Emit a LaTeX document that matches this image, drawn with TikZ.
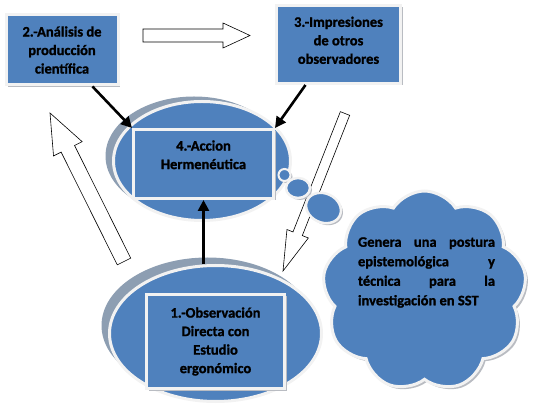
\documentclass[tikz,border=0pt]{standalone}
\usepackage{fontspec}
\setmainfont{Carlito}
\newfontfamily\heavyfont{Carlito Bold}[FakeBold=1.2]
\usetikzlibrary{arrows.meta,calc,shapes.geometric,shapes.symbols,shadows}
\definecolor{boxblue}{RGB}{79,129,189}
\definecolor{rimwhite}{RGB}{242,242,242}
\definecolor{ovalgray}{RGB}{141,158,178}
\definecolor{softgray}{RGB}{185,188,194}
\tikzset{
	box/.style={rectangle, fill=boxblue, draw=rimwhite, line width=3pt, align=center,
		font=\heavyfont\fontsize{14.5}{18.5}\selectfont,
		drop shadow={shadow xshift=2pt, shadow yshift=-2pt, fill=softgray, opacity=1}},
	oval/.style={ellipse, fill=boxblue, draw=rimwhite, line width=3pt},
	bubble/.style={ellipse, fill=boxblue, draw=rimwhite, line width=2.5pt, inner sep=0pt,
		drop shadow={shadow xshift=2pt, shadow yshift=-2pt, fill=softgray, opacity=1}},
	hollow/.style={draw=black, fill=white, line width=0.6pt, line join=miter},
	push/.style={line width=2.6pt, -{Triangle[length=11pt, width=11pt]}}
}
\newcommand{\hollowarrow}[5]{%
	\draw[hollow] let \p1=(#1), \p2=(#2), \n1={atan2(\y2-\y1,\x2-\x1)}, \n2={veclen(\x2-\x1,\y2-\y1)-#5} in
		($(\p1)+(\n1+90:#3)$) -- ($(\p1)+(\n1:\n2)+(\n1+90:#3)$) -- ($(\p1)+(\n1:\n2)+(\n1+90:#4)$) -- (\p2)
		-- ($(\p1)+(\n1:\n2)+(\n1-90:#4)$) -- ($(\p1)+(\n1:\n2)+(\n1-90:#3)$) -- ($(\p1)+(\n1-90:#3)$) -- cycle;}
\begin{document}
\begin{tikzpicture}[x=1pt, y=1pt]
	\useasboundingbox (0, 0) rectangle (534, 406);
	\node[oval, minimum width=177pt, minimum height=119pt,
		drop shadow={shadow xshift=-8pt, shadow yshift=5pt, fill=ovalgray, opacity=1}] (e4) at (202, 245) {};
	\node[box, minimum width=140pt, minimum height=69pt] (b4) at (203.5, 242) {4.-Accion\\Hermenéutica\\\mbox{}};
	\node[oval, minimum width=212pt, minimum height=136pt,
		drop shadow={shadow xshift=-8pt, shadow yshift=8pt, fill=ovalgray, opacity=1}] (e1) at (215.5, 72.5) {};
	\node[box, minimum width=138pt, minimum height=94pt] (b1) at (215.5, 64.5) {1.-Observación\\Directa con\\Estudio\\ergonómico};
	\node[box, minimum width=112pt, minimum height=70pt] (b2) at (62, 356) {2.-Análisis de\\producción\\científica};
	\node[box, minimum width=124pt, minimum height=78pt] (b3) at (338.5, 361.5) {3.-Impresiones\\de otros\\observadores\\[-10pt]\mbox{}};
	\coordinate (ra) at (143, 370.5);
	\coordinate (rb) at (250, 370.5);
	\coordinate (la) at (124, 144.5);
	\coordinate (lb) at (50, 293);
	\coordinate (da) at (345, 292.5);
	\coordinate (db) at (283, 135);
	\hollowarrow{ra}{rb}{6.5}{12.5}{27}
	\hollowarrow{la}{lb}{7.5}{16}{40}
	\hollowarrow{da}{db}{5}{11.5}{40}
	\node[bubble, minimum width=12pt, minimum height=12pt, line width=2pt] (s1) at (284.5, 231) {};
	\node[bubble, minimum width=24pt, minimum height=20pt] (s2) at (298, 218) {};
	\node[bubble, minimum width=36pt, minimum height=29pt, rotate=-25] (s3) at (323.5, 198) {};
	\node[cloud, cloud puffs=9, cloud puff arc=115, aspect=1, minimum width=204pt, minimum height=200pt,
		fill=boxblue, draw=rimwhite, line width=3pt,
		drop shadow={shadow xshift=2.5pt, shadow yshift=-2.5pt, fill=softgray, opacity=1}] (idea) at (424.5, 115) {};
	\node[text width=137pt, align=justify, inner sep=0pt, font=\heavyfont\fontsize{14.5}{19.5}\selectfont] (idtext) at (426.5, 133.5)
		{Genera una postura\linebreak epistemológica y\linebreak técnica para la\linebreak investigación en SST};
	\draw[push] ($(b2.south west)!0.765!(b2.south east)$) -- (b4.north west);
	\draw[push] ($(b3.south west)!0.24!(b3.south east)$) -- (b4.north east);
	\draw[push] (b4.south |- e1.north) -- (b4.south);
\end{tikzpicture}
\end{document}
